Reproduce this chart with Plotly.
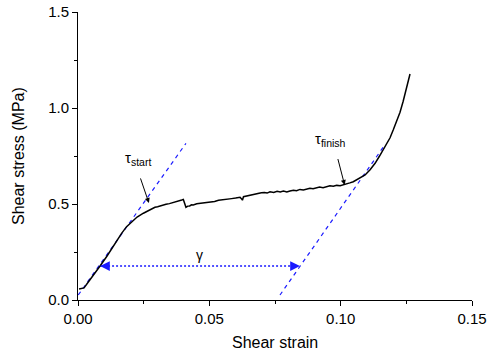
import plotly.graph_objects as go

# Measured curve (shear strain, shear stress in MPa)
strain = [0.0004, 0.0012, 0.0023, 0.0040, 0.0060, 0.0084, 0.0110, 0.0135, 0.0155, 0.0166,
          0.0185, 0.0204, 0.0225, 0.0249, 0.0262, 0.0274, 0.0284, 0.0293, 0.0303, 0.0312,
          0.0323, 0.0335, 0.0348, 0.0363, 0.0372, 0.0380, 0.0388, 0.0395, 0.0401, 0.0404,
          0.0407, 0.0411, 0.0418, 0.0425, 0.0432, 0.0439, 0.0452, 0.0465, 0.0478, 0.0490,
          0.0505, 0.0520, 0.0535, 0.0553, 0.0568, 0.0585, 0.0600, 0.0617, 0.0622, 0.0626,
          0.0630, 0.0645, 0.0660, 0.0673, 0.0686, 0.0698, 0.0710, 0.0720, 0.0731, 0.0745,
          0.0758, 0.0770, 0.0782, 0.0795, 0.0807, 0.0820, 0.0832, 0.0845, 0.0858, 0.0870,
          0.0883, 0.0895, 0.0908, 0.0920, 0.0933, 0.0946, 0.0959, 0.0972, 0.0985, 0.0998,
          0.1010, 0.1022, 0.1035, 0.1048, 0.1061, 0.1080, 0.1093, 0.1112, 0.1131, 0.1148,
          0.1162, 0.1175, 0.1188, 0.1200, 0.1213, 0.1226, 0.1238, 0.1251, 0.1264]
stress = [0.057, 0.060, 0.063, 0.095, 0.135, 0.177, 0.228, 0.283, 0.322, 0.347,
          0.382, 0.408, 0.432, 0.452, 0.462, 0.469, 0.476, 0.483, 0.486, 0.490,
          0.496, 0.499, 0.502, 0.507, 0.512, 0.515, 0.519, 0.521, 0.524, 0.512,
          0.492, 0.483, 0.489, 0.490, 0.496, 0.495, 0.501, 0.503, 0.507, 0.509,
          0.512, 0.513, 0.519, 0.521, 0.525, 0.528, 0.531, 0.535, 0.528, 0.520,
          0.538, 0.543, 0.548, 0.551, 0.556, 0.558, 0.560, 0.557, 0.564, 0.560,
          0.566, 0.563, 0.567, 0.563, 0.568, 0.572, 0.569, 0.576, 0.573, 0.579,
          0.582, 0.580, 0.586, 0.588, 0.585, 0.592, 0.595, 0.592, 0.597, 0.595,
          0.599, 0.604, 0.610, 0.616, 0.625, 0.640, 0.651, 0.678, 0.712, 0.750,
          0.785, 0.815, 0.845, 0.885, 0.928, 0.978, 1.035, 1.100, 1.177]

# Tangent (dashed) lines: endpoints
start_line_x = [0.0001, 0.0411]
start_line_y = [0.026, 0.816]
finish_line_x = [0.0769, 0.1165]
finish_line_y = [0.026, 0.802]

# gamma arrow
gamma_x = [0.0084, 0.0845]
gamma_y = [0.177, 0.177]

x_ticks = [0.00, 0.05, 0.10, 0.15]
x_labels = ["0.00", "0.05", "0.10", "0.15"]
y_ticks = [0.0, 0.5, 1.0, 1.5]
y_labels = ["0.0", "0.5", "1.0", "1.5"]

FONT = "Liberation Sans, Arial, sans-serif"
BLUE = "#1a1aff"

fig = go.Figure()
fig.add_trace(go.Scatter(x=start_line_x, y=start_line_y, mode="lines",
                         line=dict(color=BLUE, width=1.2, dash="4px,4px"), hoverinfo="skip"))
fig.add_trace(go.Scatter(x=finish_line_x, y=finish_line_y, mode="lines",
                         line=dict(color=BLUE, width=1.2, dash="4px,4px"), hoverinfo="skip"))
fig.add_trace(go.Scatter(x=gamma_x, y=gamma_y, mode="lines",
                         line=dict(color=BLUE, width=1.5, dash="2px,2px"), hoverinfo="skip"))
fig.add_trace(go.Scatter(x=strain, y=stress, mode="lines",
                         line=dict(color="black", width=1.5), hoverinfo="skip"))

annotations = [
    # gamma arrowheads
    dict(x=gamma_x[0], y=gamma_y[0], ax=gamma_x[0] + 0.004, ay=gamma_y[0],
         axref="x", ayref="y", xref="x", yref="y", text="", showarrow=True,
         arrowhead=2, arrowsize=1.3, arrowwidth=1.5, arrowcolor=BLUE),
    dict(x=gamma_x[1], y=gamma_y[1], ax=gamma_x[1] - 0.004, ay=gamma_y[1],
         axref="x", ayref="y", xref="x", yref="y", text="", showarrow=True,
         arrowhead=2, arrowsize=1.3, arrowwidth=1.5, arrowcolor=BLUE),
    dict(x=0.0464, y=0.236, xref="x", yref="y", text="γ", showarrow=False,
         font=dict(family=FONT, size=14, color="black")),
    # tau start
    dict(x=0.0270, y=0.505, ax=0.0236, ay=0.641, axref="x", ayref="y",
         xref="x", yref="y", text="", showarrow=True,
         arrowhead=2, arrowsize=1, arrowwidth=1, arrowcolor="black"),
    dict(x=0.0172, y=0.735, xref="x", yref="y", text="τ<sub>start</sub>",
         showarrow=False, xanchor="left", yanchor="middle",
         font=dict(family=FONT, size=15, color="black")),
    # tau finish
    dict(x=0.1015, y=0.599, ax=0.0988, ay=0.742, axref="x", ayref="y",
         xref="x", yref="y", text="", showarrow=True,
         arrowhead=2, arrowsize=1, arrowwidth=1, arrowcolor="black"),
    dict(x=0.0893, y=0.835, xref="x", yref="y", text="τ<sub>finish</sub>",
         showarrow=False, xanchor="left", yanchor="middle",
         font=dict(family=FONT, size=15, color="black")),
    # axis titles
    dict(x=0.5, y=-0.146, xref="paper", yref="paper", text="Shear strain",
         showarrow=False, xanchor="center", yanchor="middle",
         font=dict(family=FONT, size=16, color="black")),
    dict(x=(18 - 78) / 394, y=0.5, xref="paper", yref="paper", text="Shear stress (MPa)",
         showarrow=False, xanchor="center", yanchor="middle", textangle=-90,
         font=dict(family=FONT, size=16, color="black")),
]

axis_common = dict(showline=True, linecolor="black", linewidth=1, ticks="outside",
                   ticklen=5, tickwidth=1, tickcolor="black", showgrid=False,
                   zeroline=False, mirror=False, automargin=False,
                   tickfont=dict(family=FONT, size=15, color="black"))

fig.update_layout(
    width=488, height=356,
    margin=dict(l=78, r=16, t=12, b=56),
    paper_bgcolor="white", plot_bgcolor="white",
    showlegend=False,
    annotations=annotations,
    xaxis=dict(range=[0, 0.15], tickvals=x_ticks, ticktext=x_labels,
               minor=dict(ticks="outside", ticklen=3, tickcolor="black", tickvals=[0.025, 0.075, 0.125]),
               **axis_common),
    yaxis=dict(range=[0, 1.5], tickvals=y_ticks, ticktext=y_labels,
               minor=dict(ticks="outside", ticklen=3, tickcolor="black", tickvals=[0.25, 0.75, 1.25]),
               **axis_common),
)

fig.write_html("out.html", config={"displayModeBar": False},
               post_script="document.body.style.margin='0';")
